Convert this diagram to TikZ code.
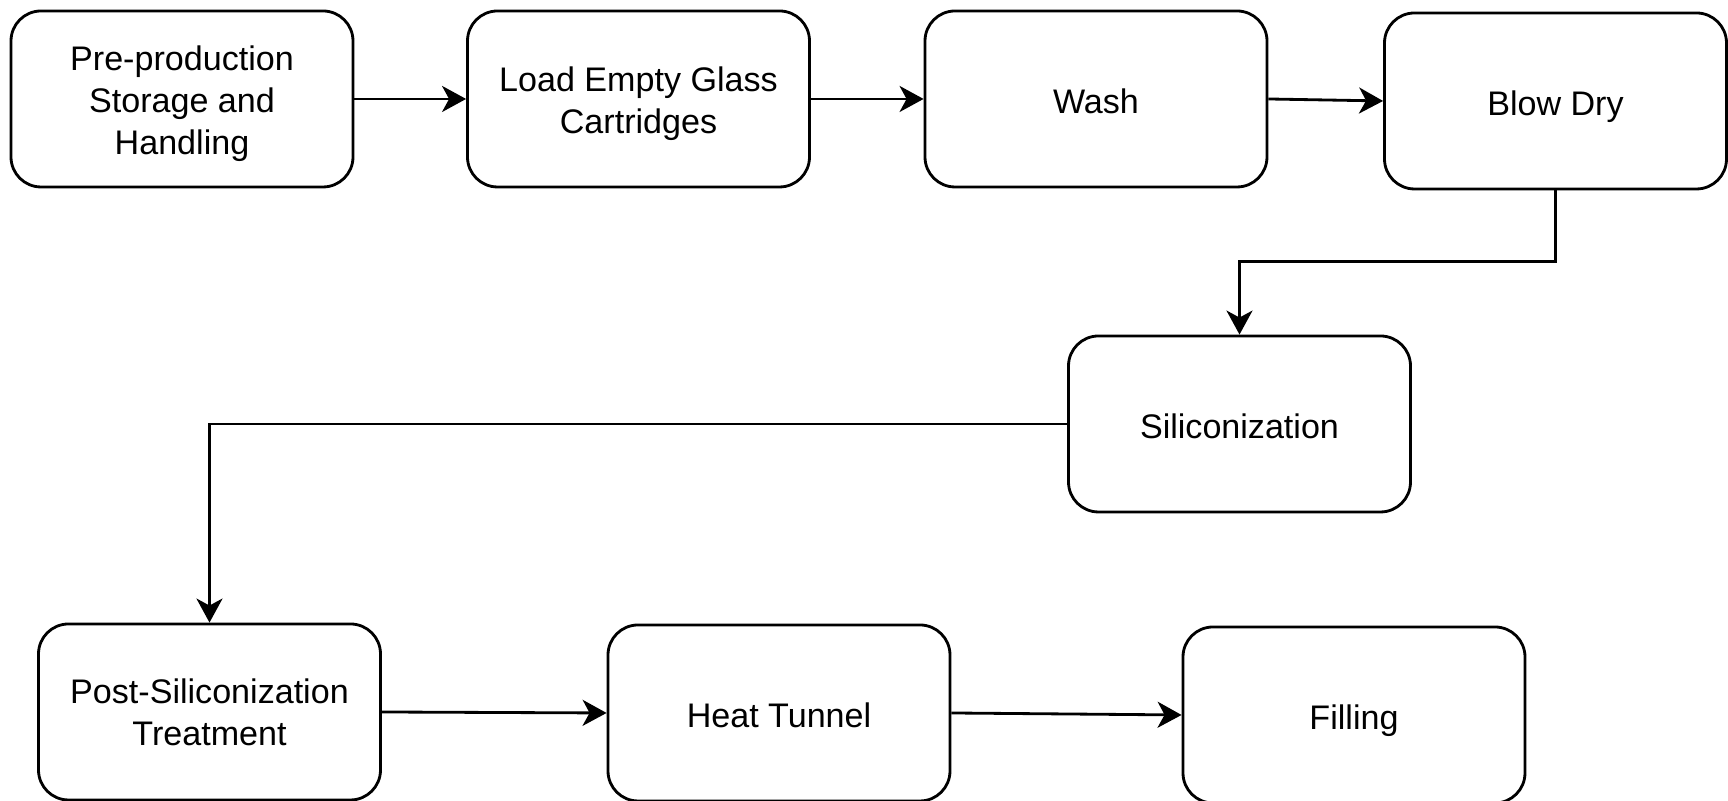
\documentclass[tikz,border=0pt]{standalone}
\usepackage{fontspec}
\setmainfont{Liberation Sans}
\usepackage{tikz}
\usetikzlibrary{calc}
\usetikzlibrary{arrows.meta}

\newcommand{\topstrut}{\rule{0pt}{1.02em}}

\begin{document}
\begin{tikzpicture}[
    stepbox/.style={draw,line width=0.8pt,rounded corners=0.3cm,
        minimum width=3.42cm,minimum height=1.76cm,align=center,
        font=\fontsize{9.7}{11.9}\selectfont},
    oneline/.style={text height=1.0em,text depth=0.19em},
    flow/.style={line width=0.8pt,-{Stealth[length=2.4mm,width=2.6mm,inset=0.7mm]}}
]
\useasboundingbox (0,0) rectangle (17.28,8.01);

\coordinate (p) at (1.82, 7.02);
\coordinate (l) at (6.385, 7.02);
\coordinate (w) at (10.96, 7.02);
\coordinate (b) at (15.555, 7.00);
\coordinate (s) at (12.395, 3.77);
\coordinate (t) at (2.095, 0.89);
\coordinate (h) at (7.79, 0.88);
\coordinate (f) at (13.54, 0.86);

\newcommand{\stepnode}[4][oneline]{
    \node[stepbox,#1] (#2) at (#3) {#4};
}

\newcommand{\fedge}[2]{
    \draw[flow] (#1)--(#2);
}

% top row
\stepnode[]{pre}{p}{\topstrut Pre-production\\Storage and\\Handling}
\stepnode[]{load}{l}{\topstrut Load Empty Glass\\Cartridges}
\stepnode{wash}{w}{Wash}
\stepnode{dry}{b}{Blow Dry}

% middle
\stepnode{sil}{s}{Siliconization}

% bottom row
\stepnode[]{post}{t}{Post-Siliconization\\Treatment}
\stepnode{heat}{h}{Heat Tunnel}
\stepnode{fill}{f}{Filling}

\fedge{pre.east}{load.west}
\fedge{load.east}{wash.west}
\fedge{wash.east}{dry.west}
\draw[flow] (dry.south) -- ++(0,-0.71) -| (sil.north);
\draw[flow] (sil.west) -| (post.north);
\fedge{post.east}{heat.west}
\fedge{heat.east}{fill.west}
\end{tikzpicture}
\end{document}
